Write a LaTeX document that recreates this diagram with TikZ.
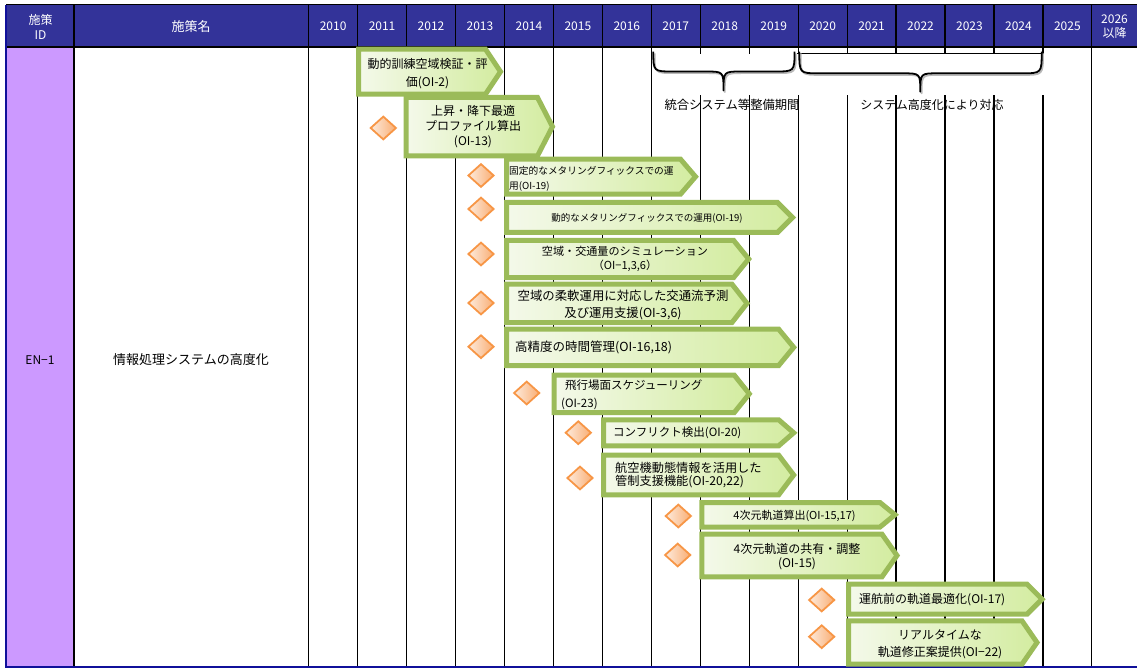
\documentclass[tikz,border=0pt]{standalone}
\usepackage{fontspec}
\setmainfont{Noto Sans CJK JP}
\usepackage{tikz}
\usetikzlibrary{shapes.geometric}
\definecolor{hdrblue}{HTML}{333399}
\definecolor{idpurple}{HTML}{CC99FF}
\definecolor{barline}{HTML}{9BBB59}
\definecolor{barL}{HTML}{F4F9EA}
\definecolor{barR}{HTML}{D3ECA0}
\definecolor{msline}{HTML}{F79646}
\definecolor{msL}{HTML}{FDEBDD}
\definecolor{msR}{HTML}{F9AE74}
\definecolor{framenavy}{HTML}{10109A}
\newcommand{\setfz}[2]{\fontsize{#1}{#2}\selectfont}
\newcommand{\planbar}[4]{%
  \path[barshape] ({#1+2.5},{#2+2.5}) -- ({#4-18},{#2+2.5}) -- ({#4-3},{(#2+#3)/2})
    -- ({#4-18},{#3-2.5}) -- ({#1+2.5},{#3-2.5}) -- cycle;}

\begin{document}
\begin{tikzpicture}[x=1pt,y=-1pt,
  hdr/.style={text=white,inner sep=0pt,align=center,font={\setfz{12}{15}}},
  lbl/.style={inner sep=0pt,align=center},
  grid/.style={line width=1.2pt},
  barshape/.style={draw=barline,line width=5pt,line join=miter,left color=barL,right color=barR},
  ms/.style={diamond,draw=msline,line width=1.8pt,left color=msL,right color=msR,
    minimum width=26pt,minimum height=23.5pt,inner sep=0pt},
  brace/.style={line width=1.8pt,line join=round}]
\useasboundingbox (0,0) rectangle (1137,668);

\fill[idpurple] (6,46.7) rectangle (74,666.7);
\fill[hdrblue] (6,4.7) rectangle (1137,46.7);

\draw[grid] (74,4.7) -- (74,666.7);
\draw[grid] (308.65,4.7) -- (308.65,666.7);
\foreach \i in {1,...,16}
  \draw[grid] ({308.65+48.95*\i},4.7) -- ({308.65+48.95*\i},666.7);

\fill[white] (653,53.8) rectangle (796.6,95);
\fill[white] (798.2,53.8) rectangle (1091,95);
\draw[line width=1pt] (797.3,53.3) -- (1042.3,53.3);

\foreach \dx/\dy/\col in {1.3/1.6/gray!55, 0/0/black}{
  \draw[brace,draw=\col,shift={(\dx,\dy)}] (653.3,51.7) .. controls (653.3,71.5) .. (673.3,71.5)
    -- (705.5,71.5) .. controls (723.5,71.5) .. (723.5,90.5)
    .. controls (723.5,71.5) .. (741.5,71.5) -- (774.5,71.5)
    .. controls (794.5,71.5) .. (794.5,51.7);
  \draw[brace,draw=\col,shift={(\dx,\dy)}] (799.3,51.7) .. controls (799.3,73.3) .. (819.3,73.3)
    -- (902.3,73.3) .. controls (920.3,73.3) .. (920.3,91.7)
    .. controls (920.3,73.3) .. (938.3,73.3) -- (1021.7,73.3)
    .. controls (1041.7,73.3) .. (1041.7,51.7);
}
\node[lbl,font={\setfz{12.3}{14}}] (period1) at (732,105) {統合システム等整備期間};
\node[lbl,font={\setfz{12}{14}}] (period2) at (932,105) {システム高度化により対応};

\draw[line width=1.6pt] (6,4.7) -- (1137,4.7);
\draw[line width=2pt] (6,46.7) -- (1137,46.7);
\draw[line width=2pt,framenavy] (6,4.7) -- (6,667.5);
\draw[line width=2pt,framenavy] (5,666.8) -- (1137,666.8);

\node[hdr] (hid) at (40.5,27) {施策\\ID};
\node[hdr,font={\setfz{13}{15}}] (hname) at (191,26.7) {施策名};
\foreach \yr [count=\i from 0] in {2010,...,2025}
  \node[hdr] (y\yr) at ({308.65+48.95*(\i+0.5)},26.7) {\yr};
\node[hdr,font={\setfz{12}{14.5}}] (y2026) at (1114.5,26.5) {2026\\以降};

\node[lbl,font={\setfz{12}{14}}] (enid) at (40,360) {EN−1};
\node[lbl,font={\setfz{13}{15}}] (enname) at (191,360) {情報処理システムの高度化};

\foreach \l/\t/\b/\e in {356/46.7/96.7/503.5, 403.5/95/158.3/555.5, 504/156.7/196.7/698.5,
    504/200/235/795.5, 504/238/280/751.7, 504/281.7/325/750, 504/326.7/368/796.7,
    551.7/372.7/415/752.3, 601/417.3/448.3/796.7, 601/452.7/497.3/796.7,
    699.3/500/529.5/898, 699.3/531.7/579.3/900, 846/581.7/616.7/1045, 846/618.3/666.7/1040}
  \planbar{\l}{\t}{\b}{\e};

\foreach \mx/\my [count=\k] in {383.3/128, 481/175.5, 481/209, 481/254, 481/303, 481/346.7,
    526.7/393, 578.3/432.7, 580/478, 678.3/516, 677.7/555, 821.7/600, 821.7/636.7}
  \node[ms] (m\k) at (\mx,\my) {};

\node[lbl,font={\setfz{12}{17.7}}] (t1) at (427.5,73.8) {動的訓練空域検証・評\\価(OI-2)};
\node[lbl,font={\setfz{12}{15}}] (t2) at (473,126.7) {上昇・降下最適\\プロファイル算出\\(OI-13)};
\node[lbl,anchor=west,align=left,font={\setfz{9.7}{14.3}}] (t3) at (509,178.8) {固定的なメタリングフィックスでの運\\用(OI-19)};
\node[lbl,font={\setfz{9.5}{12}}] (t4) at (647,218.3) {動的なメタリングフィックスでの運用(OI-19)};
\node[lbl,font={\setfz{11.1}{14.3}}] (t5) at (625,258.8) {空域・交通量のシミュレーション\\（OI−1,3,6）};
\node[lbl,font={\setfz{12.4}{16.7}}] (t6) at (623,305) {空域の柔軟運用に対応した交通流予測\\及び運用支援(OI-3,6)};
\node[lbl,anchor=west,font={\setfz{12.5}{15}}] (t7) at (515,347.3) {高精度の時間管理(OI-16,18)};
\node[lbl,anchor=west,align=left,font={\setfz{11.5}{17.3}}] (t8) at (561,394.7) {\hspace{4pt}飛行場面スケジューリング\\(OI-23)};
\node[lbl,anchor=west,font={\setfz{11.5}{14}}] (t9) at (613,433) {コンフリクト検出(OI-20)};
\node[lbl,anchor=west,align=left,font={\setfz{12.2}{13.5}}] (t10) at (615,475) {航空機動態情報を活用した\\管制支援機能(OI-20,22)};
\node[lbl,font={\setfz{11}{13}}] (t11) at (794.5,516) {4次元軌道算出(OI-15,17)};
\node[lbl,font={\setfz{12}{14}}] (t12) at (797,556.3) {4次元軌道の共有・調整\\(OI-15)};
\node[lbl,anchor=west,font={\setfz{12}{14}}] (t13) at (859,600) {運航前の軌道最適化(OI-17)};
\node[lbl,font={\setfz{12}{16.6}}] (t14) at (940,644) {リアルタイムな\\軌道修正案提供(OI−22)};
\end{tikzpicture}
\end{document}
